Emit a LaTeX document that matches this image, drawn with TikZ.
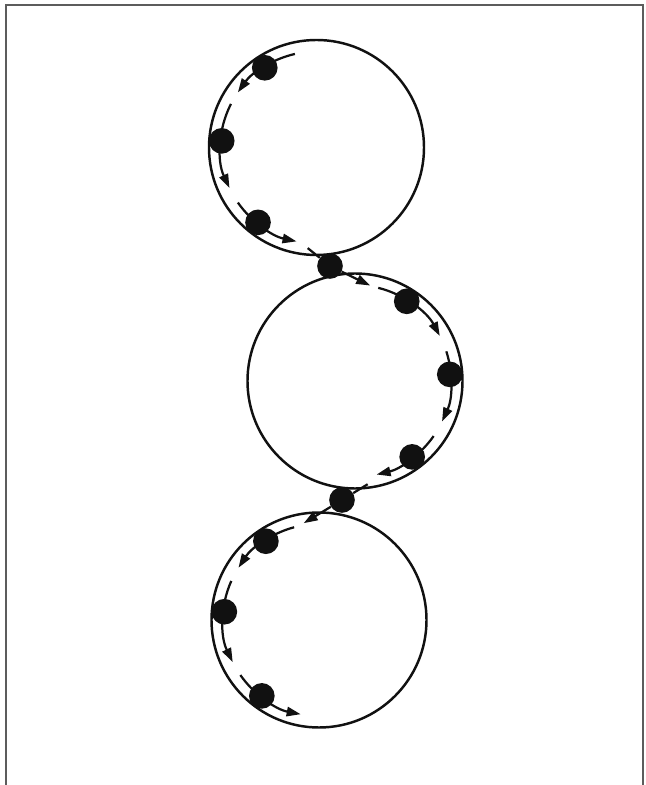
\documentclass[tikz,border=0pt]{standalone}
\usepackage{tikz}
\usetikzlibrary{arrows.meta,calc}
\definecolor{Ink}{HTML}{111111}
\definecolor{FrameGray}{HTML}{5C5C5C}
\tikzset{
  ring/.style={circle,draw=Ink,line width=2.1pt,minimum size=6.45cm,inner sep=0pt},
  bead/.style={circle,fill=Ink,minimum size=.77cm,inner sep=0pt},
  flow/.style={-{Triangle[length=4.2mm,width=2.8mm]},draw=Ink,line width=1.9pt},
  link/.style={draw=Ink,line width=1.9pt},
  frame/.style={draw=FrameGray,line width=1.7pt},
}
\begin{document}
\begin{tikzpicture}[x=.03cm,y=.03cm]
  \useasboundingbox (0,0) rectangle (646,785);
  \draw[frame] (6,0) -- (6,780) -- (643,780) -- (643,0);
  % the three rings
  \node[ring] (upper) at (316.5,637.5) {};
  \node[ring] (middle) at (355,404) {};
  \node[ring] (lower) at (319,165) {};
  % beads riding inside the rings
  \node[bead] (u1) at ($(upper)+(123:2.85cm)$) {};
  \node[bead] (u2) at ($(upper)+(176:2.85cm)$) {};
  \node[bead] (u3) at ($(upper)+(232:2.85cm)$) {};
  \node[bead] (j1) at (330,519) {};
  \node[bead] (m1) at ($(middle)+(57:2.85cm)$) {};
  \node[bead] (m2) at ($(middle)+(4:2.85cm)$) {};
  \node[bead] (m3) at ($(middle)+(-53:2.85cm)$) {};
  \node[bead] (j2) at (342,285) {};
  \node[bead] (l1) at ($(lower)+(124:2.85cm)$) {};
  \node[bead] (l2) at ($(lower)+(175:2.85cm)$) {};
  \node[bead] (l3) at ($(lower)+(233:2.85cm)$) {};
  % path of the beads
  \draw[flow] ($(upper)+(103:2.88cm)$) arc[start angle=103,end angle=145,radius=2.88cm];
  \draw[flow] ($(upper)+(153:2.88cm)$) arc[start angle=153,end angle=205,radius=2.88cm];
  \draw[flow] ($(upper)+(215:2.88cm)$) arc[start angle=215,end angle=258,radius=2.88cm];
  \draw[link] ($(upper)+(265:3.03cm)$) -- (j1);
  \draw[flow] (j1) -- ($(middle)+(81:2.9cm)$);
  \draw[flow] ($(middle)+(76:2.88cm)$) arc[start angle=76,end angle=28,radius=2.88cm];
  \draw[flow] ($(middle)+(18:2.88cm)$) arc[start angle=18,end angle=-25,radius=2.88cm];
  \draw[flow] ($(middle)+(-35:2.88cm)$) arc[start angle=-35,end angle=-77,radius=2.88cm];
  \draw[link] ($(middle)+(-83:3.12cm)$) -- (j2);
  \draw[flow] (j2) -- ($(lower)+(99:2.94cm)$);
  \draw[flow] ($(lower)+(105:2.88cm)$) arc[start angle=105,end angle=147,radius=2.88cm];
  \draw[flow] ($(lower)+(156:2.88cm)$) arc[start angle=156,end angle=206,radius=2.88cm];
  \draw[flow] ($(lower)+(215:2.88cm)$) arc[start angle=215,end angle=259,radius=2.88cm];
\end{tikzpicture}
\end{document}
